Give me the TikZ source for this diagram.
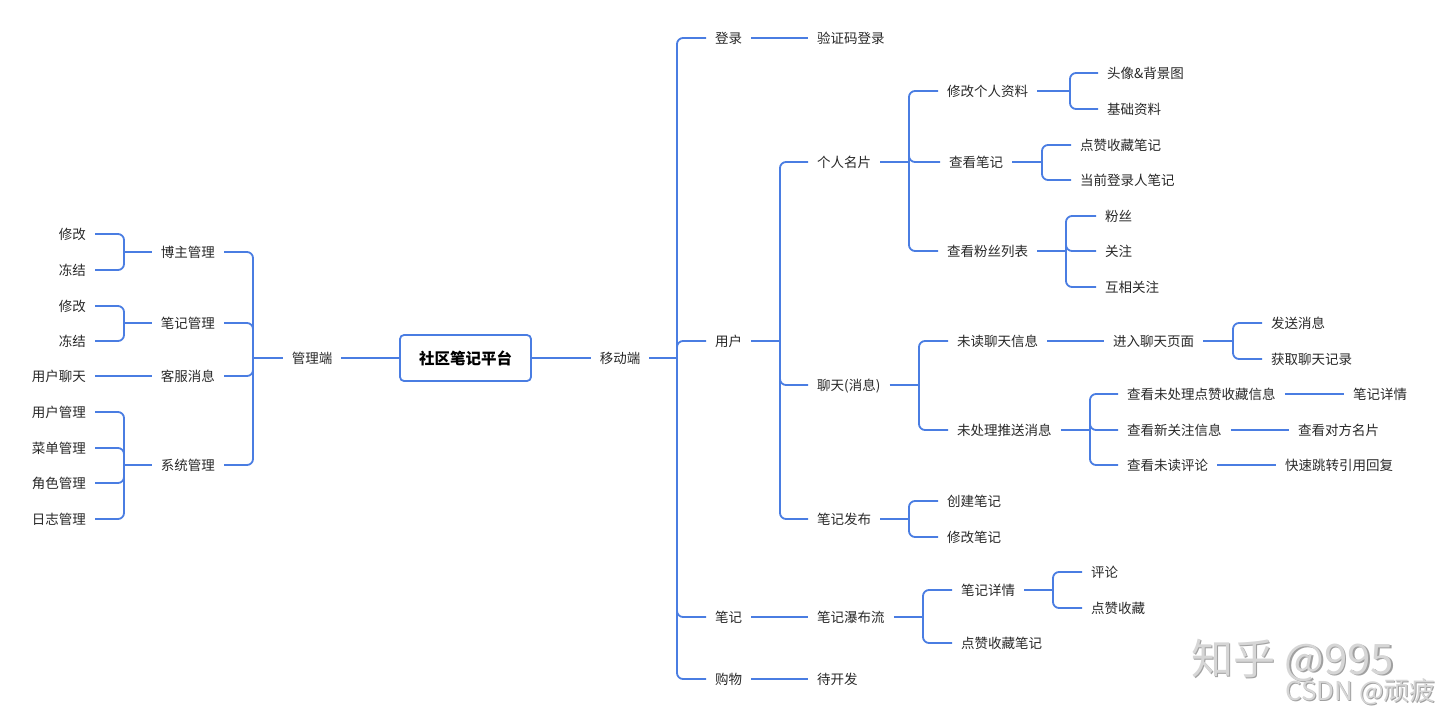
\documentclass[tikz,border=0pt]{standalone}
\usepackage{fontspec}
\setmainfont{Noto Sans CJK SC}
\definecolor{lb}{RGB}{74,125,226}
\definecolor{tc}{RGB}{40,40,40}
\definecolor{wm}{RGB}{214,214,214}
\definecolor{wmd}{RGB}{160,160,160}
\tikzset{
  conn/.style={draw=lb, line width=1.8pt},
  br/.style={conn, rounded corners=6pt},
  lbl/.style={font=\fontsize{13.5}{16}\selectfont, text=tc, inner xsep=9pt, inner ysep=2pt, text height=11.9pt, text depth=1.6pt},
  lw/.style={lbl, anchor=west},
  le/.style={lbl, anchor=east},
  rootbox/.style={draw=lb, line width=1.8pt, rounded corners=4pt, minimum width=131pt, minimum height=46pt, font=\fontsize{15.5}{18}\selectfont\bfseries, text=black},
  wmk/.style={inner sep=0pt}
}
\begin{document}
\begin{tikzpicture}[x=1pt,y=-1pt]
\useasboundingbox (0,0) rectangle (1440,717);
% root
\node[rootbox] (root) at (465.5,358) {社区笔记平台};
% ---------- left side ----------
\node[lbl] (gld) at (312,358) {管理端};
\coordinate (jGL) at (253,358);
\node[le] (bz) at (224,252) {博主管理};
\node[le] (bjgl) at (224,323) {笔记管理};
\node[le] (kf) at (224,376) {客服消息};
\node[le] (xt) at (224,465) {系统管理};
\coordinate (jBZ) at (124,252);
\coordinate (jBJ) at (124,323);
\coordinate (jXT) at (124,465);
\node[le] (xg1) at (95,234) {修改};
\node[le] (dj1) at (95,270) {冻结};
\node[le] (xg2) at (95,306) {修改};
\node[le] (dj2) at (95,341) {冻结};
\node[le] (yhlt) at (95,376) {用户聊天};
\node[le] (yhgl) at (95,412) {用户管理};
\node[le] (cdgl) at (95,448) {菜单管理};
\node[le] (jsgl) at (95,483) {角色管理};
\node[le] (rzgl) at (95,519) {日志管理};
\draw[conn] (root.west) -- (gld.east);
\draw[conn] (gld.west) -- (jGL);
\foreach \c in {bz,bjgl,kf,xt} \draw[br] (jGL) |- (\c.east);
\draw[conn] (bz.west) -- (jBZ);
\foreach \c in {xg1,dj1} \draw[br] (jBZ) |- (\c.east);
\draw[conn] (bjgl.west) -- (jBJ);
\foreach \c in {xg2,dj2} \draw[br] (jBJ) |- (\c.east);
\draw[conn] (kf.west) -- (yhlt.east);
\draw[conn] (xt.west) -- (jXT);
\foreach \c in {yhgl,cdgl,jsgl,rzgl} \draw[br] (jXT) |- (\c.east);
% ---------- right side ----------
\node[lbl] (ydd) at (620,358) {移动端};
\coordinate (jYD) at (677,358);
\draw[conn] (root.east) -- (ydd.west);
\draw[conn] (ydd.east) -- (jYD);
\node[lw] (dl) at (706,38) {登录};
\node[lw] (yh) at (706,341) {用户};
\node[lw] (bj) at (706,617) {笔记};
\node[lw] (gw) at (706,679) {购物};
\foreach \c in {dl,yh,bj,gw} \draw[br] (jYD) |- (\c.west);
% 登录
\node[lw] (yzm) at (808,38) {验证码登录};
\draw[conn] (dl.east) -- (yzm.west);
% 用户
\coordinate (jYH) at (780,341);
\draw[conn] (yh.east) -- (jYH);
\node[lw] (grmp) at (808,162) {个人名片};
\node[lw] (lt) at (808,385) {聊天(消息)};
\node[lw] (bjfb) at (808,519) {笔记发布};
\foreach \c in {grmp,lt,bjfb} \draw[br] (jYH) |- (\c.west);
% 个人名片
\coordinate (jGR) at (909,162);
\draw[conn] (grmp.east) -- (jGR);
\node[lw] (xggr) at (938,91) {修改个人资料};
\node[lw] (ckbj) at (940,162) {查看笔记};
\node[lw] (ckfs) at (938,251) {查看粉丝列表};
\foreach \c in {xggr,ckbj,ckfs} \draw[br] (jGR) |- (\c.west);
\coordinate (jXG) at (1070,91);
\draw[conn] (xggr.east) -- (jXG);
\node[lw] (tx) at (1098,73) {头像\&背景图};
\node[lw] (jc) at (1098,109) {基础资料};
\foreach \c in {tx,jc} \draw[br] (jXG) |- (\c.west);
\coordinate (jCK) at (1042,162);
\draw[conn] (ckbj.east) -- (jCK);
\node[lw] (dzsc) at (1071,145) {点赞收藏笔记};
\node[lw] (dqdl) at (1071,180) {当前登录人笔记};
\foreach \c in {dzsc,dqdl} \draw[br] (jCK) |- (\c.west);
\coordinate (jFS) at (1066,251);
\draw[conn] (ckfs.east) -- (jFS);
\node[lw] (fs) at (1096,216) {粉丝};
\node[lw] (gz) at (1096,251) {关注};
\node[lw] (hxgz) at (1096,287) {互相关注};
\foreach \c in {fs,gz,hxgz} \draw[br] (jFS) |- (\c.west);
% 聊天
\coordinate (jLT) at (919,385);
\draw[conn] (lt.east) -- (jLT);
\node[lw] (wdlt) at (948,341) {未读聊天信息};
\node[lw] (wcl) at (948,430) {未处理推送消息};
\foreach \c in {wdlt,wcl} \draw[br] (jLT) |- (\c.west);
\node[lw] (jrlt) at (1104,341) {进入聊天页面};
\draw[conn] (wdlt.east) -- (jrlt.west);
\coordinate (jJL) at (1233,341);
\draw[conn] (jrlt.east) -- (jJL);
\node[lw] (fsxx) at (1262,323) {发送消息};
\node[lw] (hqlt) at (1262,359) {获取聊天记录};
\foreach \c in {fsxx,hqlt} \draw[br] (jJL) |- (\c.west);
\coordinate (jWC) at (1090,430);
\draw[conn] (wcl.east) -- (jWC);
\node[lw] (ckdz) at (1118,394) {查看未处理点赞收藏信息};
\node[lw] (ckxgz) at (1118,430) {查看新关注信息};
\node[lw] (ckpl) at (1118,465) {查看未读评论};
\foreach \c in {ckdz,ckxgz,ckpl} \draw[br] (jWC) |- (\c.west);
\node[lw] (bjxq1) at (1344,394) {笔记详情};
\node[lw] (ckdf) at (1289,430) {查看对方名片};
\node[lw] (kstz) at (1276,465) {快速跳转引用回复};
\draw[conn] (ckdz.east) -- (bjxq1.west);
\draw[conn] (ckxgz.east) -- (ckdf.west);
\draw[conn] (ckpl.east) -- (kstz.west);
% 笔记发布
\coordinate (jFB) at (909,519);
\draw[conn] (bjfb.east) -- (jFB);
\node[lw] (cjbj) at (938,501) {创建笔记};
\node[lw] (xgbj) at (938,537) {修改笔记};
\foreach \c in {cjbj,xgbj} \draw[br] (jFB) |- (\c.west);
% 笔记
\node[lw] (pbl) at (808,617) {笔记瀑布流};
\draw[conn] (bj.east) -- (pbl.west);
\coordinate (jPB) at (923,617);
\draw[conn] (pbl.east) -- (jPB);
\node[lw] (bjxq) at (952,590) {笔记详情};
\node[lw] (dzscbj) at (952,643) {点赞收藏笔记};
\foreach \c in {bjxq,dzscbj} \draw[br] (jPB) |- (\c.west);
\coordinate (jXQ) at (1053,590);
\draw[conn] (bjxq.east) -- (jXQ);
\node[lw] (pl) at (1082,572) {评论};
\node[lw] (dzsc2) at (1082,608) {点赞收藏};
\foreach \c in {pl,dzsc2} \draw[br] (jXQ) |- (\c.west);
% 购物
\node[lw] (dkf) at (808,679) {待开发};
\draw[conn] (gw.east) -- (dkf.west);
% watermarks
\node[wmk, anchor=west, text=wmd, font=\fontsize{42}{46}\selectfont] at (1192.5,661.5) {知乎 @995};
\node[wmk, anchor=west, text=wm, font=\fontsize{42}{46}\selectfont] (zh) at (1191,660) {知乎 @995};
\node[wmk, anchor=east, text=wmd, font=\fontsize{26}{30}\selectfont] at (1437,693) {CSDN @顽疲};
\node[wmk, anchor=east, text=wm, font=\fontsize{26}{30}\selectfont] (csdn) at (1436,692) {CSDN @顽疲};
\end{tikzpicture}
\end{document}
